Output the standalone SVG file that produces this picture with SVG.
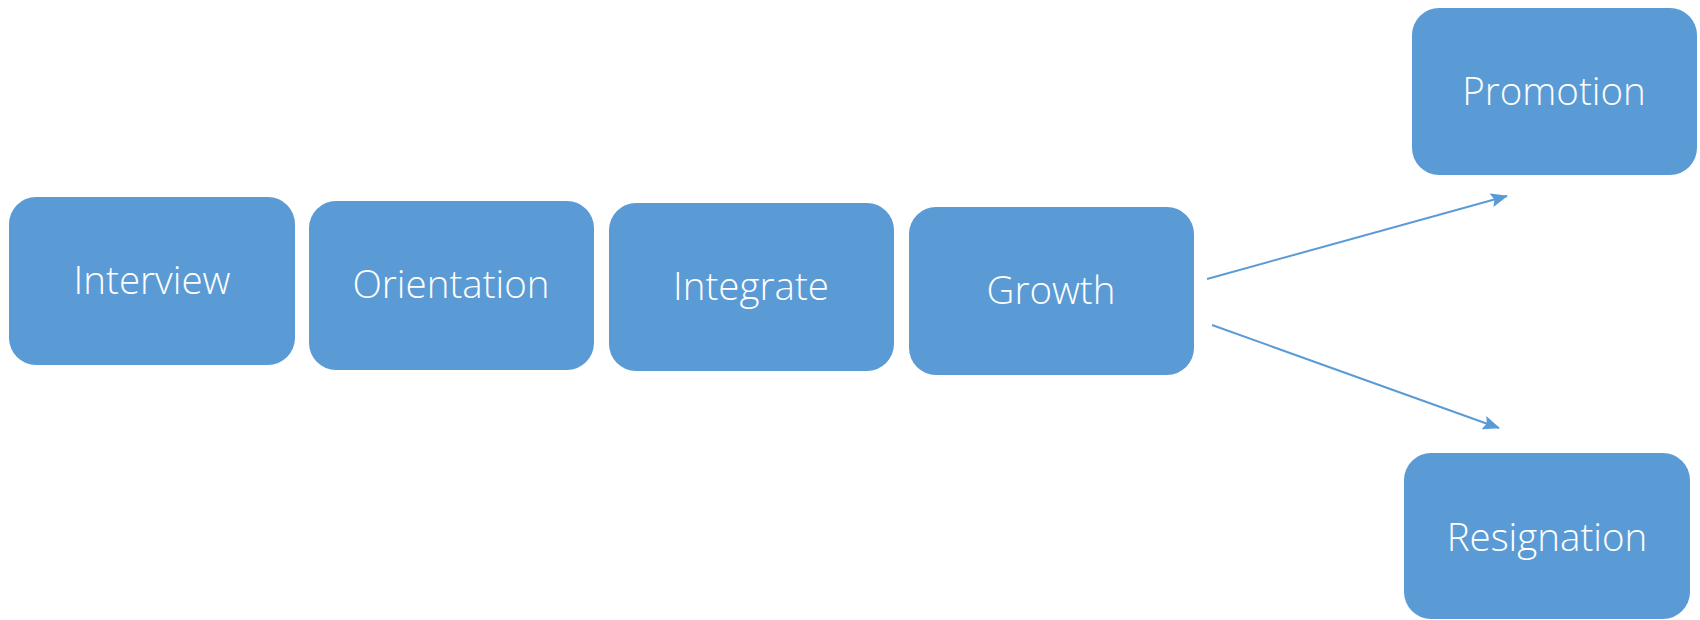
<svg xmlns="http://www.w3.org/2000/svg" width="1700" height="620" viewBox="0 0 1700 620">
<style>
.box{fill:#5B9BD5;}
.lbl{fill:#FFFFFF;font-family:"Open Sans","Noto Sans","Liberation Sans",sans-serif;font-weight:300;font-size:38.5px;text-anchor:middle;dominant-baseline:central;}
.conn{stroke:#5B9BD5;stroke-width:2;fill:none;}
</style>
<defs>
<marker id="arr" viewBox="0 0 17 14" refX="16" refY="7" markerWidth="17" markerHeight="14" markerUnits="userSpaceOnUse" orient="auto">
<path d="M0,0 L17,7 L0,14 L3,7 Z" fill="#5B9BD5"/>
</marker>
</defs>
<rect width="1700" height="620" fill="#FFFFFF"/>
<g id="interview"><rect class="box" x="9" y="197" width="286" height="168" rx="27"/><text class="lbl" x="152" y="279">Interview</text></g>
<g id="orientation"><rect class="box" x="309" y="201" width="285" height="169" rx="27"/><text class="lbl" x="451" y="283">Orientation</text></g>
<g id="integrate"><rect class="box" x="609" y="203" width="285" height="168" rx="27"/><text class="lbl" x="751" y="285">Integrate</text></g>
<g id="growth"><rect class="box" x="909" y="207" width="285" height="168" rx="27"/><text class="lbl" x="1051" y="289">Growth</text></g>
<g id="promotion"><rect class="box" x="1412" y="8" width="285" height="167" rx="27"/><text class="lbl" x="1554" y="90">Promotion</text></g>
<g id="resignation"><rect class="box" x="1404" y="453" width="286" height="166" rx="27"/><text class="lbl" x="1547" y="536">Resignation</text></g>
<g id="connectors">
<line class="conn" x1="1207" y1="279" x2="1507" y2="196" marker-end="url(#arr)"/>
<line class="conn" x1="1212" y1="325" x2="1499" y2="428" marker-end="url(#arr)"/>
</g>
</svg>
